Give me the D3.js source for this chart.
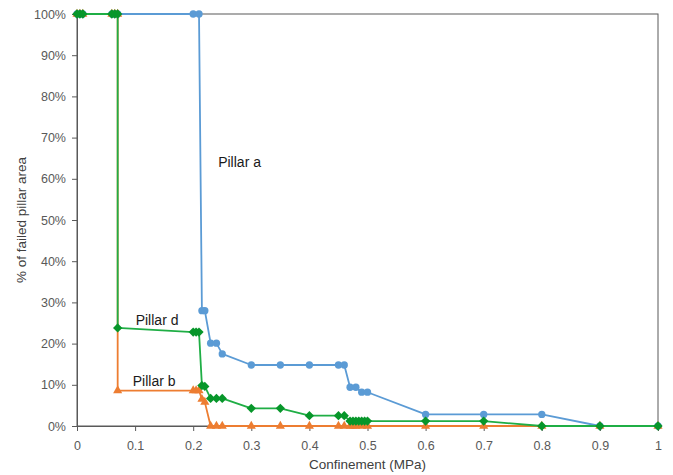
<!DOCTYPE html>
<html>
<head>
<meta charset="utf-8">
<script src="https://cdn.jsdelivr.net/npm/d3@7"></script>
<style>
  html, body { margin: 0; padding: 0; background: #fff; }
  svg { display: block; font-family: "Liberation Sans", Arial, sans-serif; }
</style>
</head>
<body>
<svg id="chart" width="673" height="475"></svg>
<script>
// Confinement (MPa) and failed area fraction (%) for each pillar
const pillarAX = [0, 0.005, 0.01, 0.06, 0.065, 0.07, 0.2, 0.21, 0.215, 0.22, 0.23, 0.24, 0.25, 0.3, 0.35, 0.4, 0.45, 0.46, 0.47, 0.48, 0.49, 0.5, 0.6, 0.7, 0.8, 0.9, 1.0];
const pillarAY = [100, 100, 100, 100, 100, 100, 100, 100, 28, 28, 20.1, 20.1, 17.5, 14.8, 14.8, 14.8, 14.8, 14.8, 9.4, 9.4, 8.2, 8.2, 2.8, 2.8, 2.8, 0, 0];

const pillarBX = [0, 0.005, 0.01, 0.06, 0.065, 0.07, 0.07, 0.2, 0.205, 0.21, 0.215, 0.22, 0.23, 0.24, 0.25, 0.3, 0.35, 0.4, 0.45, 0.46, 0.47, 0.475, 0.48, 0.49, 0.5, 0.6, 0.7, 0.8, 0.9, 1.0];
const pillarBY = [100, 100, 100, 100, 100, 100, 8.6, 8.6, 8.6, 8.6, 6.5, 5.8, 0, 0, 0, 0, 0, 0, 0, 0, 0, 0, 0, 0, 0, 0, 0, 0, 0, 0];

const pillarDX = [0, 0.005, 0.01, 0.06, 0.065, 0.07, 0.07, 0.2, 0.205, 0.21, 0.215, 0.22, 0.23, 0.24, 0.25, 0.3, 0.35, 0.4, 0.45, 0.46, 0.47, 0.475, 0.48, 0.485, 0.49, 0.495, 0.5, 0.6, 0.7, 0.8, 0.9, 1.0];
const pillarDY = [100, 100, 100, 100, 100, 100, 23.8, 22.8, 22.8, 22.8, 9.8, 9.6, 6.7, 6.7, 6.7, 4.3, 4.3, 2.5, 2.5, 2.5, 1.2, 1.2, 1.2, 1.2, 1.2, 1.2, 1.2, 1.2, 1.2, 0, 0, 0];

const xTicks = [0, 0.1, 0.2, 0.3, 0.4, 0.5, 0.6, 0.7, 0.8, 0.9, 1];
const yTicks = [0, 10, 20, 30, 40, 50, 60, 70, 80, 90, 100];

const series = [
  { name: "Pillar a", xs: pillarAX, ys: pillarAY, line: "#5b9bd5", fill: "#5b9bd5", symbol: d3.symbolCircle, size: 42,
    label: { x: 0.243, y: 62.9 } },
  { name: "Pillar b", xs: pillarBX, ys: pillarBY, line: "#ed7d31", fill: "#ed7d31", symbol: d3.symbolTriangle, size: 36,
    label: { x: 0.096, y: 9.7 } },
  { name: "Pillar d", xs: pillarDX, ys: pillarDY, line: "#1fae45", fill: "#07962a", symbol: d3.symbolDiamond2, size: 55,
    label: { x: 0.101, y: 24.5 } }
];

const svg = d3.select("#chart");
const x = d3.scaleLinear().domain([0, 1]).range([77, 658]);
const y = d3.scaleLinear().domain([0, 100]).range([426, 14]);

// plot frame
svg.append("rect")
  .attr("x", x(0)).attr("y", y(100))
  .attr("width", x(1) - x(0)).attr("height", y(0) - y(100))
  .attr("fill", "none").attr("stroke", "#595959").attr("stroke-width", 1);

// axes
const xAxis = svg.append("g").attr("transform", `translate(0,${y(0)})`)
  .call(d3.axisBottom(x).tickValues(xTicks).tickSize(5).tickPadding(8)
    .tickFormat(d => d3.format("")(d)));
const yAxis = svg.append("g").attr("transform", `translate(${x(0)},0)`)
  .call(d3.axisLeft(y).tickValues(yTicks).tickSize(5).tickPadding(6)
    .tickFormat(d => d + "%"));
[xAxis, yAxis].forEach(g => {
  g.select(".domain").attr("stroke", "#595959");
  g.selectAll(".tick line").attr("stroke", "#595959");
  g.selectAll(".tick text").attr("fill", "#595959")
    .style("font-family", "'Liberation Sans', Arial, sans-serif").style("font-size", "12.5px");
});
xAxis.selectAll(".tick text").attr("dy", "0.9em");

// axis titles
svg.append("text")
  .attr("x", (x(0) + x(1)) / 2).attr("y", 469)
  .attr("text-anchor", "middle").attr("fill", "#404040")
  .style("font-size", "13.5px")
  .text("Confinement (MPa)");
svg.append("text")
  .attr("transform", `translate(26,${(y(0) + y(100)) / 2}) rotate(-90)`)
  .attr("text-anchor", "middle").attr("fill", "#404040")
  .style("font-size", "13.5px")
  .text("% of failed pillar area");

// series lines and markers
const line = d3.line().x(d => x(d[0])).y(d => y(d[1]));
series.forEach(s => {
  const pts = s.xs.map((v, i) => [v, s.ys[i]]);
  const g = svg.append("g");
  g.append("path").datum(pts)
    .attr("d", line).attr("fill", "none")
    .attr("stroke", s.line).attr("stroke-width", 1.8).attr("stroke-linejoin", "round");
  g.selectAll("path.m").data(pts).join("path").attr("class", "m")
    .attr("transform", d => `translate(${x(d[0])},${y(d[1])})`)
    .attr("d", d3.symbol().type(s.symbol).size(s.size))
    .attr("fill", s.fill);
});

// series labels
series.forEach(s => {
  svg.append("text")
    .attr("x", x(s.label.x)).attr("y", y(s.label.y))
    .attr("text-anchor", "start").attr("fill", "#1a1a1a")
    .style("font-size", "14px")
    .text(s.name);
});
</script>
</body>
</html>
